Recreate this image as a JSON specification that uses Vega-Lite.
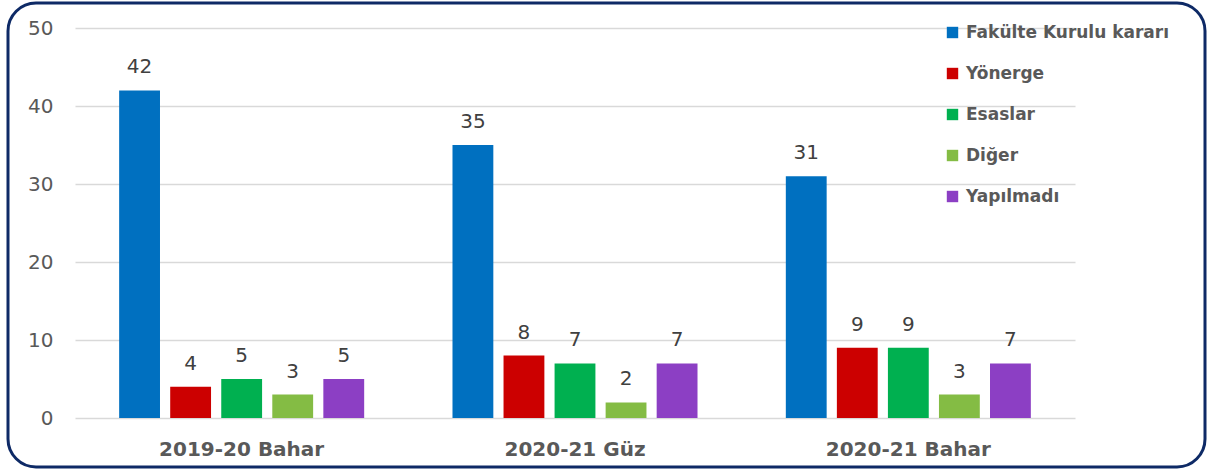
{
  "$schema": "https://vega.github.io/schema/vega-lite/v6.json",
  "width": 1197,
  "height": 464,
  "autosize": {"type": "none"},
  "padding": {"left": 8, "top": 3, "right": 5, "bottom": 3},
  "background": "white",
  "config": {
    "view": {"stroke": "#0e2a66", "strokeWidth": 3, "cornerRadius": 28},
    "font": "DejaVu Sans"
  },
  "data": {
    "values": [
      {"term": "2019-20 Bahar", "cat": "Fakülte Kurulu kararı", "v": 42},
      {"term": "2019-20 Bahar", "cat": "Yönerge", "v": 4},
      {"term": "2019-20 Bahar", "cat": "Esaslar", "v": 5},
      {"term": "2019-20 Bahar", "cat": "Diğer", "v": 3},
      {"term": "2019-20 Bahar", "cat": "Yapılmadı", "v": 5},
      {"term": "2020-21 Güz", "cat": "Fakülte Kurulu kararı", "v": 35},
      {"term": "2020-21 Güz", "cat": "Yönerge", "v": 8},
      {"term": "2020-21 Güz", "cat": "Esaslar", "v": 7},
      {"term": "2020-21 Güz", "cat": "Diğer", "v": 2},
      {"term": "2020-21 Güz", "cat": "Yapılmadı", "v": 7},
      {"term": "2020-21 Bahar", "cat": "Fakülte Kurulu kararı", "v": 31},
      {"term": "2020-21 Bahar", "cat": "Yönerge", "v": 9},
      {"term": "2020-21 Bahar", "cat": "Esaslar", "v": 9},
      {"term": "2020-21 Bahar", "cat": "Diğer", "v": 3},
      {"term": "2020-21 Bahar", "cat": "Yapılmadı", "v": 7}
    ]
  },
  "encoding": {
    "x": {
      "field": "term", "type": "nominal",
      "sort": ["2019-20 Bahar", "2020-21 Güz", "2020-21 Bahar"],
      "scale": {"range": [67, 1067], "paddingInner": 0, "paddingOuter": 0},
      "axis": {"title": null, "orient": "bottom", "offset": -49, "labelAngle": 0, "domain": false, "ticks": false, "labelPadding": 21, "labelFontSize": 20, "labelFontWeight": "bold", "labelColor": "#595959", "grid": false}
    },
    "xOffset": {
      "field": "cat", "type": "nominal",
      "sort": ["Fakülte Kurulu kararı", "Yönerge", "Esaslar", "Diğer", "Yapılmadı"],
      "scale": {"paddingInner": 0.2, "paddingOuter": 0.865}
    },
    "y": {
      "field": "v", "type": "quantitative",
      "scale": {"domain": [0, 50], "range": [415, 25], "nice": false},
      "axis": {"title": null, "offset": -67, "values": [0, 10, 20, 30, 40, 50], "domain": false, "ticks": false, "labelPadding": 22, "labelFontSize": 20, "labelColor": "#595959", "gridColor": "#d9d9d9", "gridWidth": 1.5}
    }
  },
  "layer": [
    {
      "mark": {"type": "bar"},
      "encoding": {
        "color": {
          "field": "cat", "type": "nominal",
          "sort": ["Fakülte Kurulu kararı", "Yönerge", "Esaslar", "Diğer", "Yapılmadı"],
          "scale": {
            "domain": ["Fakülte Kurulu kararı", "Yönerge", "Esaslar", "Diğer", "Yapılmadı"],
            "range": ["#0070C0", "#CC0000", "#00B050", "#84BC44", "#8C3FC4"]
          },
          "legend": {
            "orient": "none", "legendX": 936, "legendY": 21, "title": null,
            "symbolType": "square", "symbolSize": 130, "symbolStrokeWidth": 0,
            "labelFontSize": 17, "labelFontWeight": "bold", "labelColor": "#595959",
            "labelLimit": 400, "rowPadding": 23, "labelOffset": 5
          }
        }
      }
    },
    {
      "mark": {"type": "text", "baseline": "bottom", "dy": -13, "fontSize": 20, "color": "#404040"},
      "encoding": {"text": {"field": "v", "type": "quantitative"}}
    }
  ]
}
